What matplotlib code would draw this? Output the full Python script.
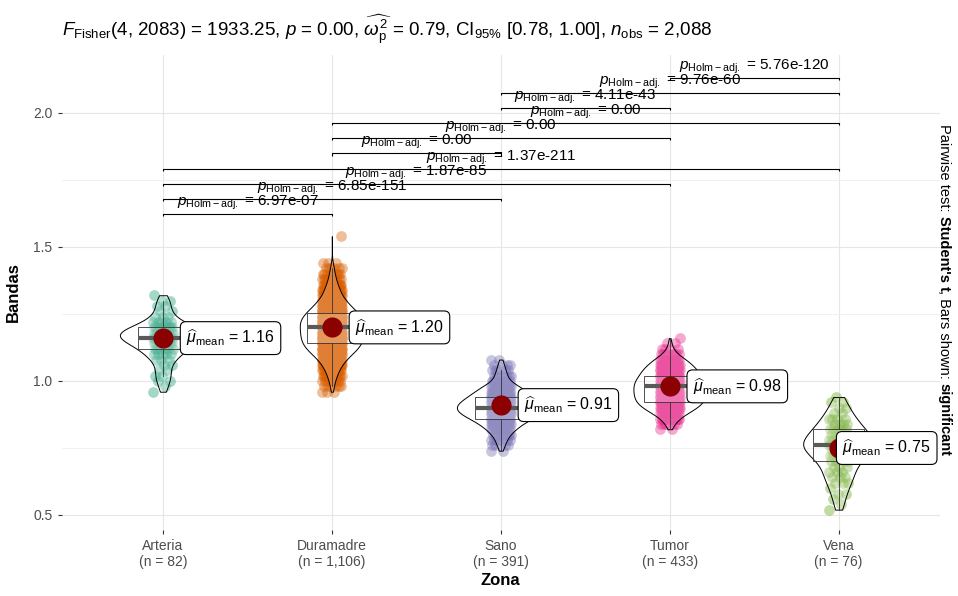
import numpy as np
import matplotlib
matplotlib.use("Agg")
import matplotlib.pyplot as plt

plt.rcParams.update({
    "font.family": ["Liberation Sans", "DejaVu Sans"],
    "mathtext.fontset": "custom",
    "mathtext.rm": "Liberation Sans",
    "mathtext.it": "Liberation Sans:italic",
    "mathtext.bf": "Liberation Sans:bold",
    "mathtext.sf": "Liberation Sans",
})

# ---------------- data ----------------
categories = ["Arteria", "Duramadre", "Sano", "Tumor", "Vena"]
group_n = [82, 1106, 391, 433, 76]
means = [1.16, 1.20, 0.91, 0.98, 0.75]
colors = ["#1B9E77", "#D95F02", "#7570B3", "#E7298A", "#66A61E"]

# binned observations: value -> number of observations
arteria_values = [0.96, 0.98, 1.00, 1.02, 1.04, 1.06, 1.08, 1.10, 1.12, 1.14,
                  1.16, 1.18, 1.20, 1.22, 1.24, 1.26, 1.28, 1.30, 1.32]
arteria_counts = [1, 1, 2, 2, 2, 2, 3, 5, 6, 9, 12, 13, 9, 5, 3, 2, 2, 2, 1]

duramadre_values = [0.96, 0.98, 1.00, 1.02, 1.04, 1.06, 1.08, 1.10, 1.12, 1.14,
                    1.16, 1.18, 1.20, 1.22, 1.24, 1.26, 1.28, 1.30, 1.32, 1.34,
                    1.36, 1.38, 1.40, 1.42, 1.44, 1.54]
duramadre_counts = [3, 6, 9, 15, 21, 30, 42, 60, 78, 90, 94, 96, 96, 99, 90,
                    75, 57, 42, 30, 24, 18, 12, 9, 6, 3, 1]

sano_values = [0.74, 0.76, 0.78, 0.80, 0.82, 0.84, 0.86, 0.88, 0.90, 0.92,
               0.94, 0.96, 0.98, 1.00, 1.02, 1.04, 1.06, 1.08]
sano_counts = [2, 5, 7, 11, 18, 26, 38, 51, 56, 51, 41, 32, 23, 10, 8, 6, 4, 2]

tumor_values = [0.82, 0.84, 0.86, 0.88, 0.90, 0.92, 0.94, 0.96, 0.98, 1.00,
                1.02, 1.04, 1.06, 1.08, 1.10, 1.12, 1.14, 1.16]
tumor_counts = [2, 6, 11, 22, 34, 42, 44, 45, 45, 44, 38, 35, 28, 21, 9, 4, 2, 1]

vena_values = [0.52, 0.54, 0.56, 0.58, 0.60, 0.62, 0.64, 0.66, 0.68, 0.70, 0.72,
               0.74, 0.76, 0.78, 0.80, 0.82, 0.84, 0.86, 0.88, 0.90, 0.92, 0.94]
vena_counts = [1, 1, 1, 2, 1, 3, 3, 3, 3, 4, 5, 7, 9, 7, 6, 5, 4, 4, 2, 2, 2, 1]

pair_groups = [("Arteria", "Duramadre"), ("Arteria", "Sano"), ("Arteria", "Tumor"),
               ("Arteria", "Vena"), ("Duramadre", "Sano"), ("Duramadre", "Tumor"),
               ("Duramadre", "Vena"), ("Sano", "Tumor"), ("Sano", "Vena"),
               ("Tumor", "Vena")]
pair_p = ["6.97e-07", "6.85e-151", "1.87e-85", "1.37e-211", "0.00", "0.00",
          "0.00", "4.11e-43", "9.76e-60", "5.76e-120"]

subtitle = (r"$\mathit{F}_{\mathrm{Fisher}}$(4, 2083) = 1933.25, $\mathit{p}$ = 0.00, "
            r"$\widehat{\omega_{\mathrm{p}}^{2}}$ = 0.79, CI$_{95\%}$ [0.78, 1.00], "
            r"$\mathit{n}_{\mathrm{obs}}$ = 2,088")
caption_parts = [("Pairwise test: ", "normal"), ("Student's t", "bold"),
                 (", Bars shown: ", "normal"), ("significant", "bold")]

# ---------------- figure ----------------
W, H = 958, 596
fig = plt.figure(figsize=(W / 100, H / 100), dpi=100)
ax = fig.add_axes([61.6 / W, 1 - 530 / H, (940 - 61.6) / W, (530 - 55) / H])
ax.set_xlim(0.4, 5.6)
ax.set_ylim(0.444, 2.2164)

datasets = [np.repeat(arteria_values, arteria_counts),
            np.repeat(duramadre_values, duramadre_counts),
            np.repeat(sano_values, sano_counts),
            np.repeat(tumor_values, tumor_counts),
            np.repeat(vena_values, vena_counts)]
pos = np.arange(1, len(categories) + 1)

# grid
ax.set_yticks([0.5, 1.0, 1.5, 2.0])
ax.set_yticks([0.75, 1.25, 1.75], minor=True)
ax.set_xticks(pos)
ax.set_xticklabels([f"{c}\n(n = {n:,})" for c, n in zip(categories, group_n)])
ax.grid(which="major", color="#E6E6E6", lw=0.8, zorder=0)
ax.grid(which="minor", axis="y", color="#F0F0F0", lw=0.7, zorder=0)
ax.set_axisbelow(True)
for s in ax.spines.values():
    s.set_visible(False)
ax.tick_params(which="major", length=3, color="#333333", labelcolor="#4D4D4D",
               labelsize=10, width=0.8)
ax.tick_params(which="minor", length=0)

# jittered points
jit = 0.06
for i, d in enumerate(datasets):
    k = np.arange(len(d))
    off = ((k * 0.6180339887) % 1.0 - 0.5) * 2 * jit
    ax.scatter(pos[i] + off, d, s=60, color=colors[i], alpha=0.4,
               linewidths=0, zorder=2)


def nrd0(kde):
    d = np.asarray(kde.dataset).ravel()
    sd = d.std(ddof=1)
    q75, q25 = np.percentile(d, [75, 25])
    lo = min(sd, (q75 - q25) / 1.34)
    return 0.9 * lo * len(d) ** -0.2 / sd


violin_widths = [0.51, 0.38, 0.52, 0.43, 0.42]
vp = ax.violinplot(datasets, positions=pos, widths=violin_widths,
                   showextrema=False, points=300, bw_method=nrd0)
for b in vp["bodies"]:
    b.set_alpha(None)
    b.set_facecolor((1, 1, 1, 0.2))
    b.set_edgecolor("black")
    b.set_linewidth(0.7)
    b.set_zorder(3)

bp = ax.boxplot(datasets, positions=pos, widths=0.3, showfliers=False,
                patch_artist=True, showcaps=False, manage_ticks=False,
                boxprops=dict(facecolor=(1, 1, 1, 0.2), edgecolor="#333333", linewidth=0.6),
                medianprops=dict(color="#5A5A5A", linewidth=3),
                whiskerprops=dict(color="#333333", linewidth=0.6), zorder=4)

ax.scatter(pos, means, s=210, color="#8B0000", zorder=5, linewidths=0)
mean_labels = []
for i, m in enumerate(means):
    t = ax.text(pos[i] + 0.4, m, r"$\widehat{\mu}_{\mathrm{mean}}$ = " + f"{m:.2f}",
                ha="center", va="center", fontsize=11.5, zorder=6,
                bbox=dict(boxstyle="round,pad=0.38,rounding_size=0.35", fc="white",
                          ec="black", lw=0.8))
    mean_labels.append(t)

# pairwise bars
bar_start, bar_step, tip = 1.623, 0.0565, 0.008
cat_pos = {c: p for c, p in zip(categories, pos)}
for j, ((a, b), p) in enumerate(zip(pair_groups, pair_p)):
    y = bar_start + j * bar_step
    xa, xb = cat_pos[a], cat_pos[b]
    ax.plot([xa, xa, xb, xb], [y - tip, y, y, y - tip], color="black", lw=0.8,
            zorder=3, solid_capstyle="butt")
    ax.annotate(r"$\mathit{p}_{\mathrm{Holm-adj.}}$ = " + p, xy=((xa + xb) / 2, y),
                xytext=(0, 1.5), textcoords="offset points", ha="center",
                va="bottom", fontsize=11, zorder=6)

ax.set_ylabel("Bandas", fontsize=12, fontweight="bold", labelpad=9)
ax.set_xlabel("Zona", fontsize=12, fontweight="bold", labelpad=3)

fig.text(62 / W, 1 - 30 / H, subtitle, ha="left", va="center", fontsize=13.5)

fig.canvas.draw()
r = fig.canvas.get_renderer()

# keep mean labels inside the panel (like ggrepel)
px_per_unit = ax.transData.transform((1, 0))[0] - ax.transData.transform((0, 0))[0]
right_limit = 937
for t in mean_labels:
    bb = t.get_bbox_patch().get_window_extent(r)
    if bb.x1 > right_limit:
        x, y = t.get_position()
        t.set_position((x - (bb.x1 - right_limit) / px_per_unit, y))

# right caption with mixed weights, rotated
cap_size = 10.5


def text_len(s, weight):
    t1 = fig.text(0, 0, s + "|", fontsize=cap_size, fontweight=weight)
    t2 = fig.text(0, 0, "|", fontsize=cap_size, fontweight=weight)
    w = t1.get_window_extent(r).width - t2.get_window_extent(r).width
    t1.remove()
    t2.remove()
    return w


lens = [text_len(s, wt) for s, wt in caption_parts]
total = sum(lens)
ystart_px = (H - 290) + total / 2
xcap = 940 / W
acc = 0
for (s, wt), L in zip(caption_parts, lens):
    fig.text(xcap, (ystart_px - acc) / H, s, fontsize=cap_size, fontweight=wt,
             rotation=-90, rotation_mode="anchor", ha="left", va="baseline")
    acc += L

fig.savefig("out.png", dpi=100)
